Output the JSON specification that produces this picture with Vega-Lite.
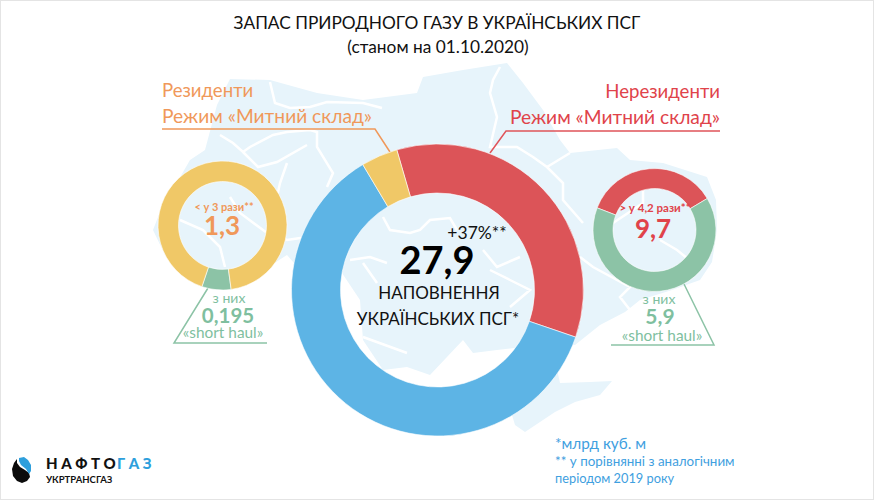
{"$schema":"https://vega.github.io/schema/vega-lite/v6.json","width":874,"height":500,"padding":0,"autosize":{"type":"fit","contains":"padding"},"background":"white","config":{"view":{"stroke":"#e4e4e4","strokeWidth":2},"axis":{"disable":true},"legend":{"disable":true},"text":{"font":"Lato"}},"resolve":{"scale":{"theta":"independent"}},"layer":[
{"data":{"values":[{"type":"Feature","properties":{"name":"territory"},"geometry":{"type":"MultiPolygon","coordinates":[[[[153,230],[160,212],[190,160],[205,150],[217,105],[230,79],[270,80],[317,93],[363,100],[417,93],[423,77],[463,70],[507,63],[523,83],[543,110],[560,140],[570,153],[617,148],[630,160],[663,163],[707,177],[716,200],[717,230],[712,262],[700,280],[672,290],[640,300],[625,312],[600,325],[575,345],[540,345],[497,350],[473,353],[463,340],[430,375],[407,367],[383,370],[363,340],[360,300],[340,270],[300,270],[287,255],[240,285],[190,275],[165,255],[153,230]]],[[[555,360],[560,383],[590,382],[612,381],[600,395],[575,402],[555,412],[525,432],[515,425],[512,415],[530,385],[555,360]]]]}}]},"mark":{"type":"geoshape","fill":"#e7f4fb","stroke":null},"projection":{"type":"identity","scale":1,"translate":[0,0]},"encoding":{}},
{"data":{"values":[{"type":"Feature","properties":{"name":"borders"},"geometry":{"type":"MultiLineString","coordinates":[[[270,82],[275,103],[290,108],[310,107],[327,102],[363,103],[382,108]],[[220,135],[233,143],[243,152],[250,147],[273,135],[287,132],[310,130],[317,132],[317,147],[333,173],[327,187]],[[243,152],[258,167],[277,162],[307,145]],[[287,163],[280,183],[277,197]],[[180,220],[203,230],[220,247],[225,267]],[[230,197],[240,213],[267,233],[287,240],[307,237],[330,225]],[[383,217],[390,230],[410,233],[420,230],[430,220],[450,218],[457,230]],[[350,260],[370,257],[387,263]],[[483,250],[497,267],[520,257]],[[500,67],[493,80],[490,93],[497,117],[490,147],[517,147],[533,157],[547,167],[563,183],[563,200],[583,223]],[[547,167],[570,153]],[[580,257],[593,267],[617,280],[630,287],[620,297],[630,310]],[[643,187],[643,203],[613,223]],[[660,240],[677,250],[693,263]],[[490,270],[510,280],[530,290],[510,307]],[[363,263],[377,283]],[[363,337],[407,353]]]}}]},"mark":{"type":"geoshape","filled":false,"fill":null,"stroke":"white","strokeWidth":2.5},"projection":{"type":"identity","scale":1,"translate":[0,0]},"encoding":{}},
{"data":{"values":[{"type":"Feature","properties":{"name":"leader"},"geometry":{"type":"LineString","coordinates":[[162,129],[375,129],[390,152]]}}]},"mark":{"type":"geoshape","filled":false,"fill":null,"stroke":"#f0985a","strokeWidth":1.5},"projection":{"type":"identity","scale":1,"translate":[0,0]},"encoding":{}},
{"data":{"values":[{"type":"Feature","properties":{"name":"leader"},"geometry":{"type":"LineString","coordinates":[[720,131],[506,131],[490,153]]}}]},"mark":{"type":"geoshape","filled":false,"fill":null,"stroke":"#e0545a","strokeWidth":1.5},"projection":{"type":"identity","scale":1,"translate":[0,0]},"encoding":{}},
{"data":{"values":[{"type":"Feature","properties":{"name":"leader"},"geometry":{"type":"MultiLineString","coordinates":[[[267,343],[174,343],[208,288]],[[611,345],[714,345],[683,282]]]}}]},"mark":{"type":"geoshape","filled":false,"fill":null,"stroke":"#8cc3a6","strokeWidth":1.5},"projection":{"type":"identity","scale":1,"translate":[0,0]},"encoding":{}},
{"data":{"values":[{"part":"Нерезиденти","value":9.69,"rank":1},{"part":"Інше","value":17.08,"rank":2},{"part":"Резиденти","value":1.13,"rank":3}]},"mark":{"type":"arc","innerRadius":97,"outerRadius":146,"stroke":"#ffffff","strokeWidth":0.6},"encoding":{"x":{"datum":437.5,"type":"quantitative","scale":{"domain":[0,874]}},"y":{"datum":290,"type":"quantitative","scale":{"domain":[500,0]}},"theta":{"field":"value","type":"quantitative","stack":true,"scale":{"range":[-0.2827,6.0005]}},"order":{"field":"rank"},"color":{"field":"part","type":"nominal","scale":{"domain":["Нерезиденти","Інше","Резиденти","short haul"],"range":["#dc5458","#5db4e5","#f0c867","#8cc3a6"]}}}},
{"data":{"values":[{"part":"short haul","value":0.095,"rank":1},{"part":"Резиденти","value":1.205,"rank":2}]},"mark":{"type":"arc","innerRadius":44,"outerRadius":64.5,"stroke":"#ffffff","strokeWidth":0.6},"encoding":{"x":{"datum":222.5,"type":"quantitative","scale":{"domain":[0,874]}},"y":{"datum":225.5,"type":"quantitative","scale":{"domain":[500,0]}},"theta":{"field":"value","type":"quantitative","stack":true,"scale":{"range":[3.007,9.290]}},"order":{"field":"rank"},"color":{"field":"part","type":"nominal","scale":{"domain":["Нерезиденти","Інше","Резиденти","short haul"],"range":["#dc5458","#5db4e5","#f0c867","#8cc3a6"]}}}},
{"data":{"values":[{"part":"Нерезиденти","value":3.45,"rank":1},{"part":"short haul","value":6.25,"rank":2}]},"mark":{"type":"arc","innerRadius":41.5,"outerRadius":61.5,"stroke":"#ffffff","strokeWidth":0.6},"encoding":{"x":{"datum":654.5,"type":"quantitative","scale":{"domain":[0,874]}},"y":{"datum":230,"type":"quantitative","scale":{"domain":[500,0]}},"theta":{"field":"value","type":"quantitative","stack":true,"scale":{"range":[-1.2025,5.0807]}},"order":{"field":"rank"},"color":{"field":"part","type":"nominal","scale":{"domain":["Нерезиденти","Інше","Резиденти","short haul"],"range":["#dc5458","#5db4e5","#f0c867","#8cc3a6"]}}}},
{"data":{"values":[{"type":"Feature","properties":{"name":"logo"},"geometry":{"type":"Polygon","coordinates":[[[17,459],[14,463],[12,469],[13,476],[17,481],[22,483],[27,481],[30,477],[29,473],[25,470],[20,467],[17,463],[17,459]]]}}]},"mark":{"type":"geoshape","fill":"#0b0b0b","stroke":null},"projection":{"type":"identity","scale":1,"translate":[0,0]},"encoding":{}},
{"data":{"values":[{"type":"Feature","properties":{"name":"logo"},"geometry":{"type":"Polygon","coordinates":[[[19,458],[24,457],[28,460],[31,465],[31,471],[29,474],[26,469],[21,465],[19,461],[19,458]]]}}]},"mark":{"type":"geoshape","fill":"#2e9fdc","stroke":null},"projection":{"type":"identity","scale":1,"translate":[0,0]},"encoding":{}},
{"data":{"values":[{"label":"ЗАПАС ПРИРОДНОГО ГАЗУ В УКРАЇНСЬКИХ ПСГ"}]},"mark":{"type":"text","fontSize":17.3,"align":"center","baseline":"alphabetic","color":"#111111"},"encoding":{"x":{"datum":437,"type":"quantitative","scale":{"domain":[0,874]}},"y":{"datum":29,"type":"quantitative","scale":{"domain":[500,0]}},"text":{"field":"label"}}},
{"data":{"values":[{"label":"(станом на 01.10.2020)"}]},"mark":{"type":"text","fontSize":17.3,"align":"center","baseline":"alphabetic","color":"#111111"},"encoding":{"x":{"datum":438,"type":"quantitative","scale":{"domain":[0,874]}},"y":{"datum":53,"type":"quantitative","scale":{"domain":[500,0]}},"text":{"field":"label"}}},
{"data":{"values":[{"label":"Резиденти"}]},"mark":{"type":"text","fontSize":18.6,"align":"left","baseline":"alphabetic","color":"#f0985a"},"encoding":{"x":{"datum":162,"type":"quantitative","scale":{"domain":[0,874]}},"y":{"datum":97,"type":"quantitative","scale":{"domain":[500,0]}},"text":{"field":"label"}}},
{"data":{"values":[{"label":"Режим «Митний склад»"}]},"mark":{"type":"text","fontSize":19.2,"align":"left","baseline":"alphabetic","color":"#f0985a"},"encoding":{"x":{"datum":162,"type":"quantitative","scale":{"domain":[0,874]}},"y":{"datum":123,"type":"quantitative","scale":{"domain":[500,0]}},"text":{"field":"label"}}},
{"data":{"values":[{"label":"Нерезиденти"}]},"mark":{"type":"text","fontSize":18.6,"align":"right","baseline":"alphabetic","color":"#e0434a"},"encoding":{"x":{"datum":720,"type":"quantitative","scale":{"domain":[0,874]}},"y":{"datum":98,"type":"quantitative","scale":{"domain":[500,0]}},"text":{"field":"label"}}},
{"data":{"values":[{"label":"Режим «Митний склад»"}]},"mark":{"type":"text","fontSize":19.2,"align":"right","baseline":"alphabetic","color":"#e0434a"},"encoding":{"x":{"datum":720,"type":"quantitative","scale":{"domain":[0,874]}},"y":{"datum":124,"type":"quantitative","scale":{"domain":[500,0]}},"text":{"field":"label"}}},
{"data":{"values":[{"label":"< у 3 рази**"}]},"mark":{"type":"text","fontSize":11,"fontWeight":"bold","align":"center","baseline":"alphabetic","color":"#f0985a"},"encoding":{"x":{"datum":224,"type":"quantitative","scale":{"domain":[0,874]}},"y":{"datum":211,"type":"quantitative","scale":{"domain":[500,0]}},"text":{"field":"label"}}},
{"data":{"values":[{"label":"1,3"}]},"mark":{"type":"text","fontSize":26,"fontWeight":"bold","align":"center","baseline":"alphabetic","color":"#f0985a"},"encoding":{"x":{"datum":222,"type":"quantitative","scale":{"domain":[0,874]}},"y":{"datum":235,"type":"quantitative","scale":{"domain":[500,0]}},"text":{"field":"label"}}},
{"data":{"values":[{"label":"з них"}]},"mark":{"type":"text","fontSize":14,"align":"center","baseline":"alphabetic","color":"#7fbf9f"},"encoding":{"x":{"datum":229,"type":"quantitative","scale":{"domain":[0,874]}},"y":{"datum":303,"type":"quantitative","scale":{"domain":[500,0]}},"text":{"field":"label"}}},
{"data":{"values":[{"label":"0,195"}]},"mark":{"type":"text","fontSize":20.5,"fontWeight":"bold","align":"center","baseline":"alphabetic","color":"#7fbf9f"},"encoding":{"x":{"datum":228,"type":"quantitative","scale":{"domain":[0,874]}},"y":{"datum":323,"type":"quantitative","scale":{"domain":[500,0]}},"text":{"field":"label"}}},
{"data":{"values":[{"label":"«short haul»"}]},"mark":{"type":"text","fontSize":15.4,"align":"center","baseline":"alphabetic","color":"#7fbf9f"},"encoding":{"x":{"datum":223,"type":"quantitative","scale":{"domain":[0,874]}},"y":{"datum":338,"type":"quantitative","scale":{"domain":[500,0]}},"text":{"field":"label"}}},
{"data":{"values":[{"label":"> у 4,2 рази**"}]},"mark":{"type":"text","fontSize":11.5,"fontWeight":"bold","align":"center","baseline":"alphabetic","color":"#e0434a"},"encoding":{"x":{"datum":655,"type":"quantitative","scale":{"domain":[0,874]}},"y":{"datum":212,"type":"quantitative","scale":{"domain":[500,0]}},"text":{"field":"label"}}},
{"data":{"values":[{"label":"9,7"}]},"mark":{"type":"text","fontSize":26,"fontWeight":"bold","align":"center","baseline":"alphabetic","color":"#e0434a"},"encoding":{"x":{"datum":653,"type":"quantitative","scale":{"domain":[0,874]}},"y":{"datum":238,"type":"quantitative","scale":{"domain":[500,0]}},"text":{"field":"label"}}},
{"data":{"values":[{"label":"з них"}]},"mark":{"type":"text","fontSize":14,"align":"center","baseline":"alphabetic","color":"#7fbf9f"},"encoding":{"x":{"datum":659,"type":"quantitative","scale":{"domain":[0,874]}},"y":{"datum":304,"type":"quantitative","scale":{"domain":[500,0]}},"text":{"field":"label"}}},
{"data":{"values":[{"label":"5,9"}]},"mark":{"type":"text","fontSize":21,"fontWeight":"bold","align":"center","baseline":"alphabetic","color":"#7fbf9f"},"encoding":{"x":{"datum":660,"type":"quantitative","scale":{"domain":[0,874]}},"y":{"datum":324,"type":"quantitative","scale":{"domain":[500,0]}},"text":{"field":"label"}}},
{"data":{"values":[{"label":"«short haul»"}]},"mark":{"type":"text","fontSize":15.4,"align":"center","baseline":"alphabetic","color":"#7fbf9f"},"encoding":{"x":{"datum":662,"type":"quantitative","scale":{"domain":[0,874]}},"y":{"datum":341,"type":"quantitative","scale":{"domain":[500,0]}},"text":{"field":"label"}}},
{"data":{"values":[{"label":"+37%**"}]},"mark":{"type":"text","fontSize":17.5,"align":"center","baseline":"alphabetic","color":"#111111"},"encoding":{"x":{"datum":477,"type":"quantitative","scale":{"domain":[0,874]}},"y":{"datum":239,"type":"quantitative","scale":{"domain":[500,0]}},"text":{"field":"label"}}},
{"data":{"values":[{"label":"27,9"}]},"mark":{"type":"text","fontSize":38,"fontWeight":"bold","align":"center","baseline":"alphabetic","color":"#000000"},"encoding":{"x":{"datum":437,"type":"quantitative","scale":{"domain":[0,874]}},"y":{"datum":274,"type":"quantitative","scale":{"domain":[500,0]}},"text":{"field":"label"}}},
{"data":{"values":[{"label":"НАПОВНЕННЯ"}]},"mark":{"type":"text","fontSize":17,"align":"center","baseline":"alphabetic","color":"#111111"},"encoding":{"x":{"datum":439,"type":"quantitative","scale":{"domain":[0,874]}},"y":{"datum":299,"type":"quantitative","scale":{"domain":[500,0]}},"text":{"field":"label"}}},
{"data":{"values":[{"label":"УКРАЇНСЬКИХ ПСГ*"}]},"mark":{"type":"text","fontSize":17,"align":"center","baseline":"alphabetic","color":"#111111"},"encoding":{"x":{"datum":438,"type":"quantitative","scale":{"domain":[0,874]}},"y":{"datum":325,"type":"quantitative","scale":{"domain":[500,0]}},"text":{"field":"label"}}},
{"data":{"values":[{"label":"*млрд куб. м"}]},"mark":{"type":"text","fontSize":15.3,"align":"left","baseline":"alphabetic","color":"#3fa0e0"},"encoding":{"x":{"datum":555,"type":"quantitative","scale":{"domain":[0,874]}},"y":{"datum":449,"type":"quantitative","scale":{"domain":[500,0]}},"text":{"field":"label"}}},
{"data":{"values":[{"label":"** у порівнянні з аналогічним"}]},"mark":{"type":"text","fontSize":13.4,"align":"left","baseline":"alphabetic","color":"#3fa0e0"},"encoding":{"x":{"datum":555,"type":"quantitative","scale":{"domain":[0,874]}},"y":{"datum":466,"type":"quantitative","scale":{"domain":[500,0]}},"text":{"field":"label"}}},
{"data":{"values":[{"label":"періодом 2019 року"}]},"mark":{"type":"text","fontSize":12.8,"align":"left","baseline":"alphabetic","color":"#3fa0e0"},"encoding":{"x":{"datum":555,"type":"quantitative","scale":{"domain":[0,874]}},"y":{"datum":483,"type":"quantitative","scale":{"domain":[500,0]}},"text":{"field":"label"}}},
{"data":{"values":[{"label":"Н А Ф Т О"}]},"mark":{"type":"text","fontSize":15,"fontWeight":900,"align":"left","baseline":"alphabetic","color":"#111111"},"encoding":{"x":{"datum":46,"type":"quantitative","scale":{"domain":[0,874]}},"y":{"datum":469,"type":"quantitative","scale":{"domain":[500,0]}},"text":{"field":"label"}}},
{"data":{"values":[{"label":"Г А З"}]},"mark":{"type":"text","fontSize":15,"fontWeight":900,"align":"left","baseline":"alphabetic","color":"#2e9fdc"},"encoding":{"x":{"datum":117,"type":"quantitative","scale":{"domain":[0,874]}},"y":{"datum":469,"type":"quantitative","scale":{"domain":[500,0]}},"text":{"field":"label"}}},
{"data":{"values":[{"label":"УКРТРАНСГАЗ"}]},"mark":{"type":"text","fontSize":9.5,"fontWeight":"bold","align":"left","baseline":"alphabetic","color":"#111111"},"encoding":{"x":{"datum":46,"type":"quantitative","scale":{"domain":[0,874]}},"y":{"datum":483,"type":"quantitative","scale":{"domain":[500,0]}},"text":{"field":"label"}}}
]}
